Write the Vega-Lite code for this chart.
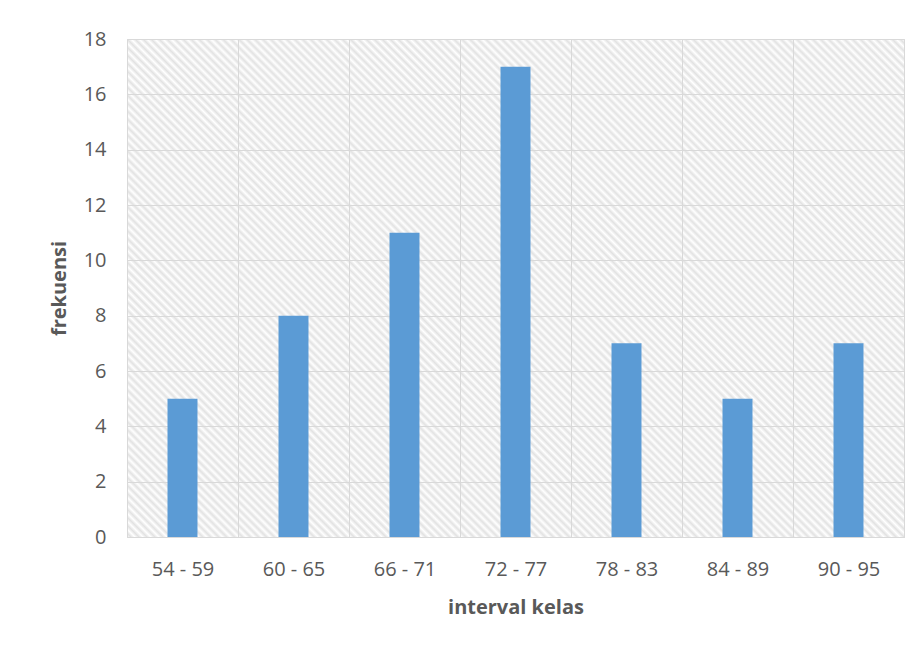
{
  "$schema": "https://vega.github.io/schema/vega-lite/v6.json",
  "width": 777,
  "height": 498,
  "autosize": {"type": "none"},
  "padding": {"left": 127, "top": 39, "right": 16, "bottom": 109},
  "background": "#ffffff",
  "view": {
    "stroke": "#d9d9d9",
    "strokeWidth": 1,
    "fill": {
      "gradient": "linear",
      "x1": 0, "y1": 1, "x2": 1.1631, "y2": 0.2544,
      "stops": [
        {"offset":0,"color":"#fff"},{"offset":0.003125,"color":"#e2e2e2"},{"offset":0.00625,"color":"#fff"},{"offset":0.009375,"color":"#e2e2e2"},{"offset":0.0125,"color":"#fff"},{"offset":0.015625,"color":"#e2e2e2"},{"offset":0.01875,"color":"#fff"},{"offset":0.021875,"color":"#e2e2e2"},{"offset":0.025,"color":"#fff"},{"offset":0.028125,"color":"#e2e2e2"},{"offset":0.03125,"color":"#fff"},{"offset":0.034375,"color":"#e2e2e2"},{"offset":0.0375,"color":"#fff"},{"offset":0.040625,"color":"#e2e2e2"},{"offset":0.04375,"color":"#fff"},{"offset":0.046875,"color":"#e2e2e2"},{"offset":0.05,"color":"#fff"},{"offset":0.053125,"color":"#e2e2e2"},{"offset":0.05625,"color":"#fff"},{"offset":0.059375,"color":"#e2e2e2"},{"offset":0.0625,"color":"#fff"},{"offset":0.065625,"color":"#e2e2e2"},{"offset":0.06875,"color":"#fff"},{"offset":0.071875,"color":"#e2e2e2"},{"offset":0.075,"color":"#fff"},{"offset":0.078125,"color":"#e2e2e2"},{"offset":0.08125,"color":"#fff"},{"offset":0.084375,"color":"#e2e2e2"},{"offset":0.0875,"color":"#fff"},{"offset":0.090625,"color":"#e2e2e2"},{"offset":0.09375,"color":"#fff"},{"offset":0.096875,"color":"#e2e2e2"},
        {"offset":0.1,"color":"#fff"},{"offset":0.103125,"color":"#e2e2e2"},{"offset":0.10625,"color":"#fff"},{"offset":0.109375,"color":"#e2e2e2"},{"offset":0.1125,"color":"#fff"},{"offset":0.115625,"color":"#e2e2e2"},{"offset":0.11875,"color":"#fff"},{"offset":0.121875,"color":"#e2e2e2"},{"offset":0.125,"color":"#fff"},{"offset":0.128125,"color":"#e2e2e2"},{"offset":0.13125,"color":"#fff"},{"offset":0.134375,"color":"#e2e2e2"},{"offset":0.1375,"color":"#fff"},{"offset":0.140625,"color":"#e2e2e2"},{"offset":0.14375,"color":"#fff"},{"offset":0.146875,"color":"#e2e2e2"},{"offset":0.15,"color":"#fff"},{"offset":0.153125,"color":"#e2e2e2"},{"offset":0.15625,"color":"#fff"},{"offset":0.159375,"color":"#e2e2e2"},{"offset":0.1625,"color":"#fff"},{"offset":0.165625,"color":"#e2e2e2"},{"offset":0.16875,"color":"#fff"},{"offset":0.171875,"color":"#e2e2e2"},{"offset":0.175,"color":"#fff"},{"offset":0.178125,"color":"#e2e2e2"},{"offset":0.18125,"color":"#fff"},{"offset":0.184375,"color":"#e2e2e2"},{"offset":0.1875,"color":"#fff"},{"offset":0.190625,"color":"#e2e2e2"},{"offset":0.19375,"color":"#fff"},{"offset":0.196875,"color":"#e2e2e2"},
        {"offset":0.2,"color":"#fff"},{"offset":0.203125,"color":"#e2e2e2"},{"offset":0.20625,"color":"#fff"},{"offset":0.209375,"color":"#e2e2e2"},{"offset":0.2125,"color":"#fff"},{"offset":0.215625,"color":"#e2e2e2"},{"offset":0.21875,"color":"#fff"},{"offset":0.221875,"color":"#e2e2e2"},{"offset":0.225,"color":"#fff"},{"offset":0.228125,"color":"#e2e2e2"},{"offset":0.23125,"color":"#fff"},{"offset":0.234375,"color":"#e2e2e2"},{"offset":0.2375,"color":"#fff"},{"offset":0.240625,"color":"#e2e2e2"},{"offset":0.24375,"color":"#fff"},{"offset":0.246875,"color":"#e2e2e2"},{"offset":0.25,"color":"#fff"},{"offset":0.253125,"color":"#e2e2e2"},{"offset":0.25625,"color":"#fff"},{"offset":0.259375,"color":"#e2e2e2"},{"offset":0.2625,"color":"#fff"},{"offset":0.265625,"color":"#e2e2e2"},{"offset":0.26875,"color":"#fff"},{"offset":0.271875,"color":"#e2e2e2"},{"offset":0.275,"color":"#fff"},{"offset":0.278125,"color":"#e2e2e2"},{"offset":0.28125,"color":"#fff"},{"offset":0.284375,"color":"#e2e2e2"},{"offset":0.2875,"color":"#fff"},{"offset":0.290625,"color":"#e2e2e2"},{"offset":0.29375,"color":"#fff"},{"offset":0.296875,"color":"#e2e2e2"},
        {"offset":0.3,"color":"#fff"},{"offset":0.303125,"color":"#e2e2e2"},{"offset":0.30625,"color":"#fff"},{"offset":0.309375,"color":"#e2e2e2"},{"offset":0.3125,"color":"#fff"},{"offset":0.315625,"color":"#e2e2e2"},{"offset":0.31875,"color":"#fff"},{"offset":0.321875,"color":"#e2e2e2"},{"offset":0.325,"color":"#fff"},{"offset":0.328125,"color":"#e2e2e2"},{"offset":0.33125,"color":"#fff"},{"offset":0.334375,"color":"#e2e2e2"},{"offset":0.3375,"color":"#fff"},{"offset":0.340625,"color":"#e2e2e2"},{"offset":0.34375,"color":"#fff"},{"offset":0.346875,"color":"#e2e2e2"},{"offset":0.35,"color":"#fff"},{"offset":0.353125,"color":"#e2e2e2"},{"offset":0.35625,"color":"#fff"},{"offset":0.359375,"color":"#e2e2e2"},{"offset":0.3625,"color":"#fff"},{"offset":0.365625,"color":"#e2e2e2"},{"offset":0.36875,"color":"#fff"},{"offset":0.371875,"color":"#e2e2e2"},{"offset":0.375,"color":"#fff"},{"offset":0.378125,"color":"#e2e2e2"},{"offset":0.38125,"color":"#fff"},{"offset":0.384375,"color":"#e2e2e2"},{"offset":0.3875,"color":"#fff"},{"offset":0.390625,"color":"#e2e2e2"},{"offset":0.39375,"color":"#fff"},{"offset":0.396875,"color":"#e2e2e2"},
        {"offset":0.4,"color":"#fff"},{"offset":0.403125,"color":"#e2e2e2"},{"offset":0.40625,"color":"#fff"},{"offset":0.409375,"color":"#e2e2e2"},{"offset":0.4125,"color":"#fff"},{"offset":0.415625,"color":"#e2e2e2"},{"offset":0.41875,"color":"#fff"},{"offset":0.421875,"color":"#e2e2e2"},{"offset":0.425,"color":"#fff"},{"offset":0.428125,"color":"#e2e2e2"},{"offset":0.43125,"color":"#fff"},{"offset":0.434375,"color":"#e2e2e2"},{"offset":0.4375,"color":"#fff"},{"offset":0.440625,"color":"#e2e2e2"},{"offset":0.44375,"color":"#fff"},{"offset":0.446875,"color":"#e2e2e2"},{"offset":0.45,"color":"#fff"},{"offset":0.453125,"color":"#e2e2e2"},{"offset":0.45625,"color":"#fff"},{"offset":0.459375,"color":"#e2e2e2"},{"offset":0.4625,"color":"#fff"},{"offset":0.465625,"color":"#e2e2e2"},{"offset":0.46875,"color":"#fff"},{"offset":0.471875,"color":"#e2e2e2"},{"offset":0.475,"color":"#fff"},{"offset":0.478125,"color":"#e2e2e2"},{"offset":0.48125,"color":"#fff"},{"offset":0.484375,"color":"#e2e2e2"},{"offset":0.4875,"color":"#fff"},{"offset":0.490625,"color":"#e2e2e2"},{"offset":0.49375,"color":"#fff"},{"offset":0.496875,"color":"#e2e2e2"},
        {"offset":0.5,"color":"#fff"},{"offset":0.503125,"color":"#e2e2e2"},{"offset":0.50625,"color":"#fff"},{"offset":0.509375,"color":"#e2e2e2"},{"offset":0.5125,"color":"#fff"},{"offset":0.515625,"color":"#e2e2e2"},{"offset":0.51875,"color":"#fff"},{"offset":0.521875,"color":"#e2e2e2"},{"offset":0.525,"color":"#fff"},{"offset":0.528125,"color":"#e2e2e2"},{"offset":0.53125,"color":"#fff"},{"offset":0.534375,"color":"#e2e2e2"},{"offset":0.5375,"color":"#fff"},{"offset":0.540625,"color":"#e2e2e2"},{"offset":0.54375,"color":"#fff"},{"offset":0.546875,"color":"#e2e2e2"},{"offset":0.55,"color":"#fff"},{"offset":0.553125,"color":"#e2e2e2"},{"offset":0.55625,"color":"#fff"},{"offset":0.559375,"color":"#e2e2e2"},{"offset":0.5625,"color":"#fff"},{"offset":0.565625,"color":"#e2e2e2"},{"offset":0.56875,"color":"#fff"},{"offset":0.571875,"color":"#e2e2e2"},{"offset":0.575,"color":"#fff"},{"offset":0.578125,"color":"#e2e2e2"},{"offset":0.58125,"color":"#fff"},{"offset":0.584375,"color":"#e2e2e2"},{"offset":0.5875,"color":"#fff"},{"offset":0.590625,"color":"#e2e2e2"},{"offset":0.59375,"color":"#fff"},{"offset":0.596875,"color":"#e2e2e2"},
        {"offset":0.6,"color":"#fff"},{"offset":0.603125,"color":"#e2e2e2"},{"offset":0.60625,"color":"#fff"},{"offset":0.609375,"color":"#e2e2e2"},{"offset":0.6125,"color":"#fff"},{"offset":0.615625,"color":"#e2e2e2"},{"offset":0.61875,"color":"#fff"},{"offset":0.621875,"color":"#e2e2e2"},{"offset":0.625,"color":"#fff"},{"offset":0.628125,"color":"#e2e2e2"},{"offset":0.63125,"color":"#fff"},{"offset":0.634375,"color":"#e2e2e2"},{"offset":0.6375,"color":"#fff"},{"offset":0.640625,"color":"#e2e2e2"},{"offset":0.64375,"color":"#fff"},{"offset":0.646875,"color":"#e2e2e2"},{"offset":0.65,"color":"#fff"},{"offset":0.653125,"color":"#e2e2e2"},{"offset":0.65625,"color":"#fff"},{"offset":0.659375,"color":"#e2e2e2"},{"offset":0.6625,"color":"#fff"},{"offset":0.665625,"color":"#e2e2e2"},{"offset":0.66875,"color":"#fff"},{"offset":0.671875,"color":"#e2e2e2"},{"offset":0.675,"color":"#fff"},{"offset":0.678125,"color":"#e2e2e2"},{"offset":0.68125,"color":"#fff"},{"offset":0.684375,"color":"#e2e2e2"},{"offset":0.6875,"color":"#fff"},{"offset":0.690625,"color":"#e2e2e2"},{"offset":0.69375,"color":"#fff"},{"offset":0.696875,"color":"#e2e2e2"},
        {"offset":0.7,"color":"#fff"},{"offset":0.703125,"color":"#e2e2e2"},{"offset":0.70625,"color":"#fff"},{"offset":0.709375,"color":"#e2e2e2"},{"offset":0.7125,"color":"#fff"},{"offset":0.715625,"color":"#e2e2e2"},{"offset":0.71875,"color":"#fff"},{"offset":0.721875,"color":"#e2e2e2"},{"offset":0.725,"color":"#fff"},{"offset":0.728125,"color":"#e2e2e2"},{"offset":0.73125,"color":"#fff"},{"offset":0.734375,"color":"#e2e2e2"},{"offset":0.7375,"color":"#fff"},{"offset":0.740625,"color":"#e2e2e2"},{"offset":0.74375,"color":"#fff"},{"offset":0.746875,"color":"#e2e2e2"},{"offset":0.75,"color":"#fff"},{"offset":0.753125,"color":"#e2e2e2"},{"offset":0.75625,"color":"#fff"},{"offset":0.759375,"color":"#e2e2e2"},{"offset":0.7625,"color":"#fff"},{"offset":0.765625,"color":"#e2e2e2"},{"offset":0.76875,"color":"#fff"},{"offset":0.771875,"color":"#e2e2e2"},{"offset":0.775,"color":"#fff"},{"offset":0.778125,"color":"#e2e2e2"},{"offset":0.78125,"color":"#fff"},{"offset":0.784375,"color":"#e2e2e2"},{"offset":0.7875,"color":"#fff"},{"offset":0.790625,"color":"#e2e2e2"},{"offset":0.79375,"color":"#fff"},{"offset":0.796875,"color":"#e2e2e2"},
        {"offset":0.8,"color":"#fff"},{"offset":0.803125,"color":"#e2e2e2"},{"offset":0.80625,"color":"#fff"},{"offset":0.809375,"color":"#e2e2e2"},{"offset":0.8125,"color":"#fff"},{"offset":0.815625,"color":"#e2e2e2"},{"offset":0.81875,"color":"#fff"},{"offset":0.821875,"color":"#e2e2e2"},{"offset":0.825,"color":"#fff"},{"offset":0.828125,"color":"#e2e2e2"},{"offset":0.83125,"color":"#fff"},{"offset":0.834375,"color":"#e2e2e2"},{"offset":0.8375,"color":"#fff"},{"offset":0.840625,"color":"#e2e2e2"},{"offset":0.84375,"color":"#fff"},{"offset":0.846875,"color":"#e2e2e2"},{"offset":0.85,"color":"#fff"},{"offset":0.853125,"color":"#e2e2e2"},{"offset":0.85625,"color":"#fff"},{"offset":0.859375,"color":"#e2e2e2"},{"offset":0.8625,"color":"#fff"},{"offset":0.865625,"color":"#e2e2e2"},{"offset":0.86875,"color":"#fff"},{"offset":0.871875,"color":"#e2e2e2"},{"offset":0.875,"color":"#fff"},{"offset":0.878125,"color":"#e2e2e2"},{"offset":0.88125,"color":"#fff"},{"offset":0.884375,"color":"#e2e2e2"},{"offset":0.8875,"color":"#fff"},{"offset":0.890625,"color":"#e2e2e2"},{"offset":0.89375,"color":"#fff"},{"offset":0.896875,"color":"#e2e2e2"},
        {"offset":0.9,"color":"#fff"},{"offset":0.903125,"color":"#e2e2e2"},{"offset":0.90625,"color":"#fff"},{"offset":0.909375,"color":"#e2e2e2"},{"offset":0.9125,"color":"#fff"},{"offset":0.915625,"color":"#e2e2e2"},{"offset":0.91875,"color":"#fff"},{"offset":0.921875,"color":"#e2e2e2"},{"offset":0.925,"color":"#fff"},{"offset":0.928125,"color":"#e2e2e2"},{"offset":0.93125,"color":"#fff"},{"offset":0.934375,"color":"#e2e2e2"},{"offset":0.9375,"color":"#fff"},{"offset":0.940625,"color":"#e2e2e2"},{"offset":0.94375,"color":"#fff"},{"offset":0.946875,"color":"#e2e2e2"},{"offset":0.95,"color":"#fff"},{"offset":0.953125,"color":"#e2e2e2"},{"offset":0.95625,"color":"#fff"},{"offset":0.959375,"color":"#e2e2e2"},{"offset":0.9625,"color":"#fff"},{"offset":0.965625,"color":"#e2e2e2"},{"offset":0.96875,"color":"#fff"},{"offset":0.971875,"color":"#e2e2e2"},{"offset":0.975,"color":"#fff"},{"offset":0.978125,"color":"#e2e2e2"},{"offset":0.98125,"color":"#fff"},{"offset":0.984375,"color":"#e2e2e2"},{"offset":0.9875,"color":"#fff"},{"offset":0.990625,"color":"#e2e2e2"},{"offset":0.99375,"color":"#fff"},{"offset":0.996875,"color":"#e2e2e2"},
        {"offset":1,"color":"#fff"}
      ]
    }
  },
  "data": {
    "values": [
      {"interval": "54 - 59", "frekuensi": 5},
      {"interval": "60 - 65", "frekuensi": 8},
      {"interval": "66 - 71", "frekuensi": 11},
      {"interval": "72 - 77", "frekuensi": 17},
      {"interval": "78 - 83", "frekuensi": 7},
      {"interval": "84 - 89", "frekuensi": 5},
      {"interval": "90 - 95", "frekuensi": 7}
    ]
  },
  "mark": {"type": "bar", "color": "#5b9bd5", "width": {"band": 0.27}},
  "encoding": {
    "x": {
      "field": "interval",
      "type": "nominal",
      "sort": null,
      "scale": {"paddingInner": 0, "paddingOuter": 0},
      "axis": {
        "title": "interval kelas",
        "labelAngle": 0,
        "grid": true,
        "tickBand": "extent",
        "ticks": false,
        "tickSize": 0,
        "labelPadding": 22,
        "domainColor": "#d9d9d9",
        "domainWidth": 1,
        "titlePadding": 18
      }
    },
    "y": {
      "field": "frekuensi",
      "type": "quantitative",
      "scale": {"domain": [0, 18], "nice": false},
      "axis": {
        "title": "frekuensi",
        "values": [0, 2, 4, 6, 8, 10, 12, 14, 16, 18],
        "grid": true,
        "domain": false,
        "ticks": false,
        "tickSize": 0,
        "labelPadding": 21,
        "titlePadding": 14
      }
    }
  },
  "config": {
    "font": "Open Sans",
    "axis": {
      "labelFont": "Open Sans",
      "labelFontSize": 20,
      "labelColor": "#595959",
      "titleFont": "Open Sans",
      "titleFontSize": 20,
      "titleFontWeight": "bold",
      "titleColor": "#595959",
      "gridColor": "#d9d9d9",
      "gridWidth": 1
    }
  }
}
